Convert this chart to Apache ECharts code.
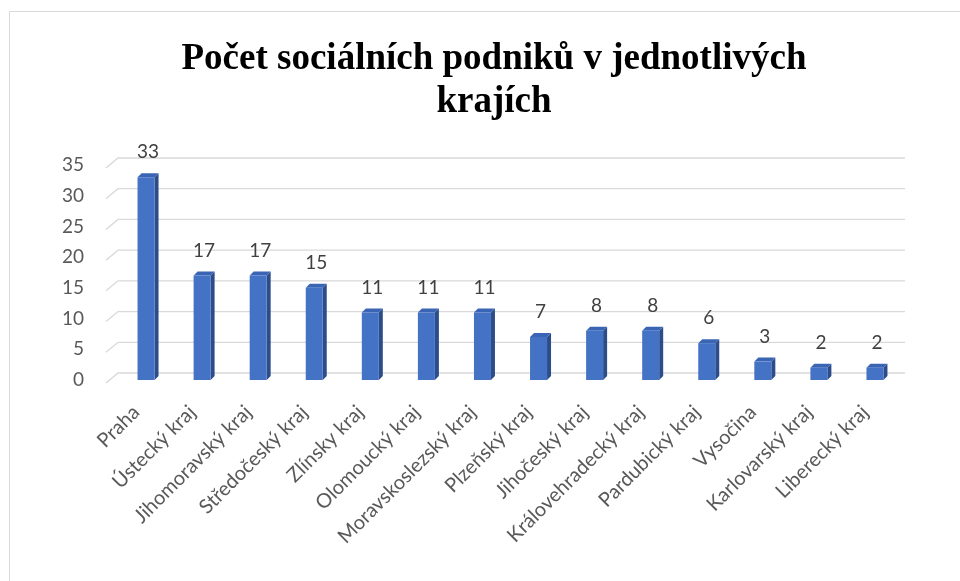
<!DOCTYPE html>
<html>
<head>
<meta charset="utf-8">
<script src="https://cdn.jsdelivr.net/npm/echarts@6/dist/echarts.min.js"></script>
<style>
  html, body { margin: 0; padding: 0; background: #fff; }
  #chart { width: 960px; height: 581px; }
</style>
</head>
<body>
<div id="chart"></div>
<script>
'use strict';

const regions = ['Praha', 'Ústecký kraj', 'Jihomoravský kraj', 'Středočeský kraj',
  'Zlínsky kraj', 'Olomoucký kraj', 'Moravskoslezský kraj', 'Plzeňský kraj',
  'Jihočeský kraj', 'Královehradecký kraj', 'Pardubický kraj', 'Vysočina',
  'Karlovarský kraj', 'Liberecký kraj'];
const counts = [33, 17, 17, 15, 11, 11, 11, 7, 8, 8, 6, 3, 2, 2];
const yTicks = [0, 5, 10, 15, 20, 25, 30, 35];

const labelFont = 'Lato, "Open Sans", sans-serif';

// back wall gridlines with the little perspective step on the left
function renderGrid(params, api) {
  const cs = params.coordSys;
  const y = api.coord([0, api.value(1)])[1];
  return {
    type: 'polyline',
    shape: { points: [[cs.x - 12, y + 3], [cs.x, y - 7], [cs.x + cs.width + 2, y - 7]] },
    style: { stroke: '#d9d9d9', lineWidth: 1.3, fill: null }
  };
}

// fake 3d column: front, right side and top face
function renderBar(params, api) {
  const top = api.coord([api.value(0), api.value(1)]);
  const base = api.coord([api.value(0), 0]);
  const x = top[0], yt = top[1], yb = base[1];
  const hw = 8.5, dx = 4, dy = 4;
  return {
    type: 'group',
    children: [
      { type: 'polygon',
        shape: { points: [[x + hw, yt], [x + hw + dx, yt - dy], [x + hw + dx, yb - dy], [x + hw, yb]] },
        style: { fill: '#2c4d8a' } },
      { type: 'polygon',
        shape: { points: [[x - hw, yt], [x - hw + dx, yt - dy], [x + hw + dx, yt - dy], [x + hw, yt]] },
        style: { fill: '#3a65b4' } },
      { type: 'rect',
        shape: { x: x - hw, y: yt, width: hw * 2, height: yb - yt },
        style: { fill: '#4472c4' } },
      { type: 'text',
        style: { text: String(api.value(1)), x: x + 2, y: yt - 25, align: 'center', verticalAlign: 'middle',
          fill: '#404040', font: '19px ' + labelFont } }
    ]
  };
}

const chart = echarts.init(document.getElementById('chart'));
chart.setOption({
  animation: false,
  backgroundColor: '#fff',
  title: {
    text: 'Počet sociálních podniků v jednotlivých\nkrajích',
    left: 489,
    top: 33,
    textAlign: 'center',
    textStyle: {
      fontFamily: '"Liberation Serif", serif',
      fontWeight: 'bold',
      fontSize: 37,
      lineHeight: 43,
      color: '#000'
    }
  },
  graphic: [{
    type: 'rect',
    shape: { x: 9.5, y: 11.5, width: 1000, height: 1000 },
    style: { fill: null, stroke: '#d9d9d9', lineWidth: 1 }
  }],
  grid: { left: 118, right: 57, top: 165, bottom: 201 },
  xAxis: {
    type: 'category',
    data: regions,
    axisLine: { show: false },
    axisTick: { show: false },
    axisLabel: {
      interval: 0,
      rotate: 45,
      margin: 19,
      padding: [0, 14, 0, 0],
      color: '#595959',
      fontSize: 20,
      fontFamily: labelFont
    }
  },
  yAxis: {
    type: 'value',
    min: 0,
    max: 35,
    interval: 5,
    axisLine: { show: false },
    axisTick: { show: false },
    splitLine: { show: false },
    axisLabel: {
      margin: 34,
      padding: [6, 0, 0, 0],
      color: '#595959',
      fontSize: 19,
      fontFamily: labelFont
    }
  },
  series: [
    {
      type: 'custom',
      renderItem: renderGrid,
      data: yTicks.map(v => [0, v]),
      clip: false,
      silent: true,
      z: 1
    },
    {
      type: 'custom',
      renderItem: renderBar,
      data: counts.map((v, i) => [i, v]),
      clip: false,
      z: 2
    }
  ]
});
</script>
</body>
</html>
